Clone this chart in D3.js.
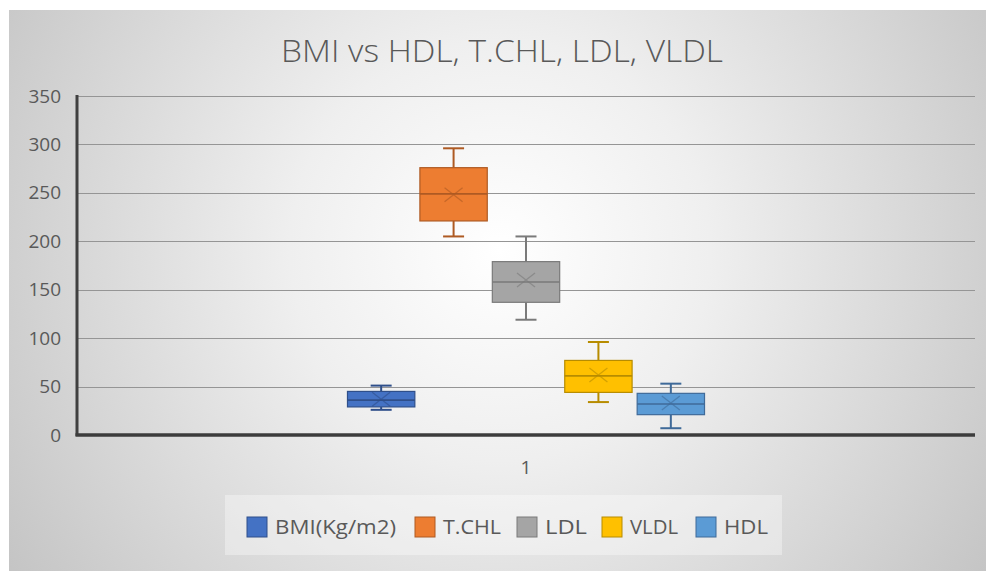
<!DOCTYPE html>
<html>
<head>
<meta charset="utf-8">
<script src="https://cdn.jsdelivr.net/npm/d3@7"></script>
<style>
  html, body { margin: 0; padding: 0; background: #ffffff; }
  svg { display: block; }
</style>
</head>
<body>
<svg id="chart" width="986" height="571"></svg>
<script>
// ---- data ----
const categories = ["1"];
const series = ["BMI(Kg/m2)", "T.CHL", "LDL", "VLDL", "HDL"];
const whiskerLow  = [26, 205, 119, 34, 7];
const q1Values    = [29, 221, 137, 44, 21];
const medianValues= [36, 249, 158, 61, 32];
const q3Values    = [45, 276, 179, 77, 43];
const whiskerHigh = [51, 296, 205, 96, 53];
const meanValues  = [37, 248, 160, 62, 33];
const yTicks = [0, 50, 100, 150, 200, 250, 300, 350];
const titleText = "BMI vs HDL, T.CHL, LDL, VLDL";

(function () {
// ---- styles ----
const fills   = ["#4472C4", "#ED7D31", "#A5A5A5", "#FFC000", "#5B9BD5"];
const strokes = ["#2F4F8A", "#AE5A23", "#7A7A7A", "#B78C00", "#3F6A99"];
const textColor = "#595959";
const font = "'Open Sans', 'DejaVu Sans', sans-serif";

const svg = d3.select("#chart");
const W = 986, H = 571;

// background with radial gradient
const defs = svg.append("defs");
const grad = defs.append("radialGradient")
  .attr("id", "bg")
  .attr("gradientUnits", "userSpaceOnUse")
  .attr("cx", 500).attr("cy", 250).attr("r", 600);
grad.append("stop").attr("offset", 0).attr("stop-color", "#ffffff");
grad.append("stop").attr("offset", 0.35).attr("stop-color", "#efefef");
grad.append("stop").attr("offset", 1).attr("stop-color", "#c3c3c3");

svg.append("rect").attr("x", 0).attr("y", 0).attr("width", W).attr("height", H).attr("fill", "#ffffff");
svg.append("rect").attr("x", 9).attr("y", 10).attr("width", W - 9).attr("height", H - 10).attr("fill", "url(#bg)");

// plot area
const pLeft = 77, pRight = 975, pTop = 96, pBottom = 435;
const y = d3.scaleLinear().domain([0, 350]).range([pBottom, pTop]);
const x0 = d3.scaleBand().domain(categories).range([pLeft, pRight]).paddingInner(0).paddingOuter(0.74);
const x1 = d3.scaleBand().domain(series).range([0, x0.bandwidth()]).paddingInner(0.07).paddingOuter(0.035);

// gridlines
svg.append("g").selectAll("line")
  .data(yTicks.filter(d => d > 0))
  .join("line")
  .attr("x1", pLeft).attr("x2", pRight)
  .attr("y1", d => Math.round(y(d)) + 0.5).attr("y2", d => Math.round(y(d)) + 0.5)
  .attr("stroke", "#959595").attr("stroke-width", 1.2);

// y axis
const yAxis = d3.axisLeft(y).tickValues(yTicks).tickSize(0).tickPadding(16);
const gy = svg.append("g").attr("transform", `translate(${pLeft},0)`).call(yAxis);
gy.select(".domain").remove();
gy.selectAll("text")
  .attr("fill", textColor)
  .style("font-family", font)
  .style("font-size", "19px");
svg.append("line").attr("x1", pLeft).attr("x2", pLeft).attr("y1", pTop - 1).attr("y2", pBottom + 1)
  .attr("stroke", "#404040").attr("stroke-width", 3);

// x axis
const xAxis = d3.axisBottom(x0).tickSize(0).tickPadding(26);
const gx = svg.append("g").attr("transform", `translate(0,${pBottom})`).call(xAxis);
gx.select(".domain").remove();
gx.selectAll("text")
  .attr("fill", textColor)
  .style("font-family", font)
  .style("font-size", "19px");
svg.append("line").attr("x1", pLeft - 1.5).attr("x2", pRight).attr("y1", pBottom).attr("y2", pBottom)
  .attr("stroke", "#3c3c3c").attr("stroke-width", 3.5);

// boxes
const boxes = series.map((s, i) => ({
  name: s, i,
  lo: whiskerLow[i], q1: q1Values[i], med: medianValues[i], q3: q3Values[i], hi: whiskerHigh[i], mean: meanValues[i]
}));

const g = svg.append("g").attr("transform", `translate(${x0("1")},0)`);
const bw = x1.bandwidth();
const capHalf = 10.5;

const bg = g.selectAll("g.box").data(boxes).join("g").attr("class", "box")
  .attr("transform", d => `translate(${x1(d.name)},0)`);

// whiskers
bg.append("line")
  .attr("x1", bw / 2).attr("x2", bw / 2)
  .attr("y1", d => y(d.hi)).attr("y2", d => y(d.q3))
  .attr("stroke", d => strokes[d.i]).attr("stroke-width", 2);
bg.append("line")
  .attr("x1", bw / 2).attr("x2", bw / 2)
  .attr("y1", d => y(d.q1)).attr("y2", d => y(d.lo))
  .attr("stroke", d => strokes[d.i]).attr("stroke-width", 2);
bg.append("line")
  .attr("x1", bw / 2 - capHalf).attr("x2", bw / 2 + capHalf)
  .attr("y1", d => y(d.hi)).attr("y2", d => y(d.hi))
  .attr("stroke", d => strokes[d.i]).attr("stroke-width", 2);
bg.append("line")
  .attr("x1", bw / 2 - capHalf).attr("x2", bw / 2 + capHalf)
  .attr("y1", d => y(d.lo)).attr("y2", d => y(d.lo))
  .attr("stroke", d => strokes[d.i]).attr("stroke-width", 2);

// box
bg.append("rect")
  .attr("x", 0).attr("width", bw)
  .attr("y", d => y(d.q3)).attr("height", d => y(d.q1) - y(d.q3))
  .attr("fill", d => fills[d.i])
  .attr("stroke", d => strokes[d.i]).attr("stroke-width", 1.2);

// median
bg.append("line")
  .attr("x1", 0).attr("x2", bw)
  .attr("y1", d => y(d.med)).attr("y2", d => y(d.med))
  .attr("stroke", d => strokes[d.i]).attr("stroke-width", 1.6);

// mean marker X
const mx = 9, my = 7;
bg.append("path")
  .attr("d", d => {
    const cx = bw / 2, cy = y(d.mean);
    return `M${cx - mx},${cy - my}L${cx + mx},${cy + my}M${cx - mx},${cy + my}L${cx + mx},${cy - my}`;
  })
  .attr("stroke", d => strokes[d.i]).attr("stroke-width", 1.3).attr("stroke-opacity", 0.6).attr("fill", "none");

// title
svg.append("text")
  .attr("x", 502).attr("y", 62)
  .attr("text-anchor", "middle")
  .attr("fill", textColor)
  .style("font-family", font)
  .style("font-size", "32px")
  .style("font-weight", 300)
  .attr("textLength", 442)
  .attr("lengthAdjust", "spacingAndGlyphs")
  .text(titleText);

// legend
svg.append("rect").attr("x", 225).attr("y", 495).attr("width", 557).attr("height", 60)
  .attr("fill", "#ffffff").attr("fill-opacity", 0.35);

const legendX = [247, 415, 517, 602, 696];
const legendTextW = [121, 58, 42, 48, 44];
const lg = svg.append("g").selectAll("g").data(series).join("g")
  .attr("transform", (d, i) => `translate(${legendX[i]},517)`);
lg.append("rect").attr("width", 20).attr("height", 20)
  .attr("fill", (d, i) => fills[i]).attr("stroke", (d, i) => strokes[i]).attr("stroke-width", 1);
lg.append("text")
  .attr("x", 28).attr("y", 17)
  .attr("fill", textColor)
  .style("font-family", font)
  .style("font-size", "20px")
  .attr("textLength", (d, i) => legendTextW[i])
  .attr("lengthAdjust", "spacingAndGlyphs")
  .text(d => d);
})();
</script>
</body>
</html>
